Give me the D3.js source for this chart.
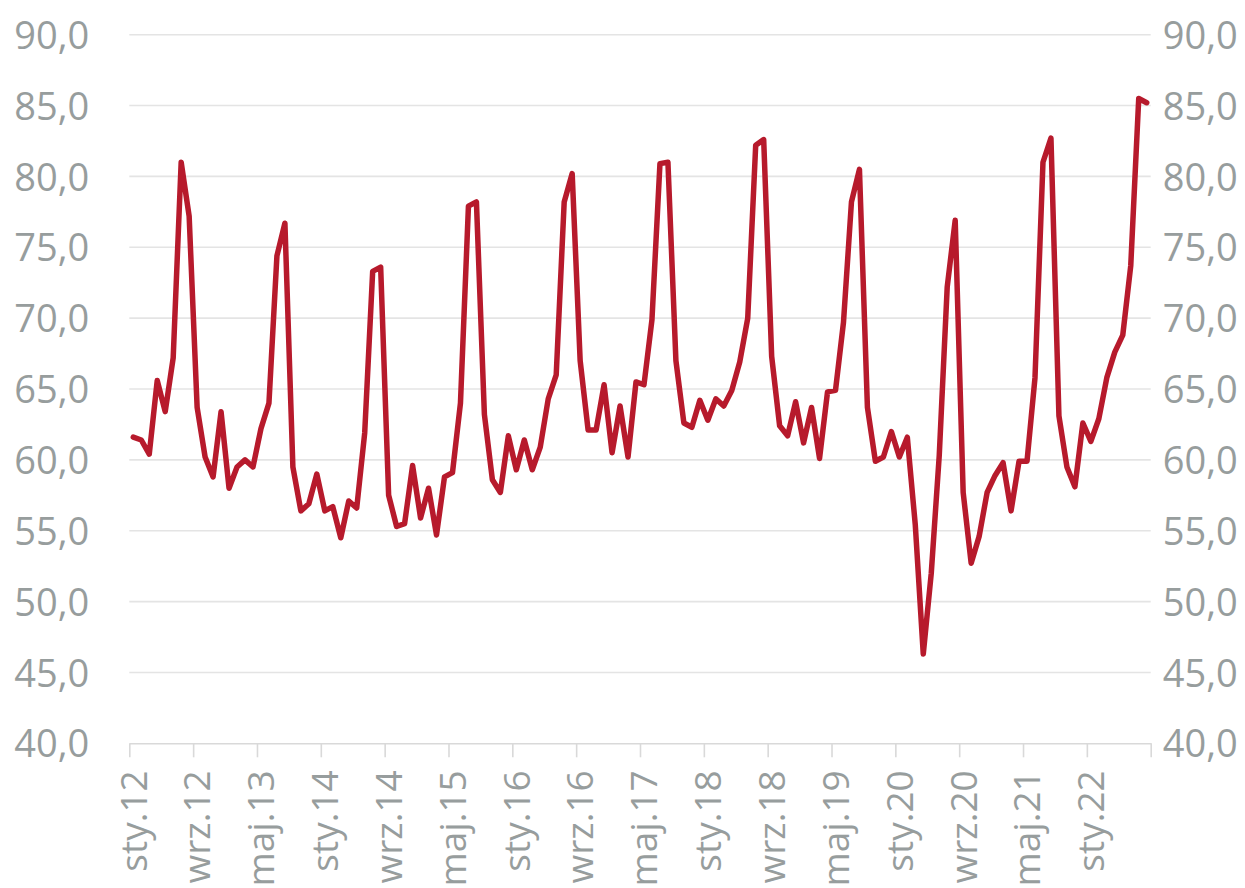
<!DOCTYPE html>
<html>
<head>
<meta charset="utf-8">
<script src="https://cdn.jsdelivr.net/npm/d3@7"></script>
<style>
  body { margin: 0; background: #fff; }
  text { font-family: "Open Sans", sans-serif; fill: #979d9d; }
</style>
</head>
<body>
<svg></svg>
<script>
var width = 1245, height = 888;

var monthNames = ['sty','lut','mar','kwi','maj','cze','lip','sie','wrz','paź','lis','gru'];
var startYear = 2012;

// monthly values, sty.12 .. sie.22
var values = [
  61.6, 61.4, 60.4, 65.6, 63.4, 67.2, 81.0, 77.2, 63.7, 60.2, 58.8, 63.4,
  58.0, 59.5, 60.0, 59.5, 62.2, 64.0, 74.4, 76.7, 59.5, 56.4, 56.9, 59.0,
  56.4, 56.7, 54.5, 57.1, 56.6, 61.9, 73.3, 73.6, 57.5, 55.3, 55.5, 59.6,
  55.9, 58.0, 54.7, 58.8, 59.1, 64.0, 77.9, 78.2, 63.2, 58.6, 57.7, 61.7,
  59.3, 61.4, 59.3, 60.9, 64.3, 66.0, 78.2, 80.2, 67.0, 62.1, 62.1, 65.3,
  60.5, 63.8, 60.2, 65.5, 65.3, 69.9, 80.9, 81.0, 67.0, 62.6, 62.3, 64.2,
  62.8, 64.3, 63.8, 64.9, 66.9, 70.0, 82.2, 82.6, 67.3, 62.4, 61.7, 64.1,
  61.2, 63.7, 60.1, 64.8, 64.9, 69.7, 78.2, 80.5, 63.7, 59.9, 60.2, 62.0,
  60.2, 61.6, 55.4, 46.3, 52.0, 60.3, 72.2, 76.9, 57.7, 52.7, 54.6, 57.7,
  58.9, 59.8, 56.4, 59.9, 59.9, 65.8, 81.0, 82.7, 63.1, 59.5, 58.1, 62.6,
  61.3, 62.9, 65.8, 67.6, 68.8, 73.7, 85.5, 85.2
];

var categories = values.map(function(v, i){
    var m = i % 12, yr = startYear + Math.floor(i / 12);
    return monthNames[m] + '.' + String(yr).slice(2);
});

var yTicks = [40, 45, 50, 55, 60, 65, 70, 75, 80, 85, 90];
var labelStep = 8;

var plotLeft = 129.3, plotRight = 1150.7, plotTop = 34.7, plotBottom = 743.3;

var x = d3.scaleLinear()
            .domain([-0.5, values.length - 0.5])
            .range([plotLeft, plotRight]);

var y = d3.scaleLinear()
            .domain([40, 90])
            .range([plotBottom, plotTop]);

var fmt = d => d.toFixed(1).replace('.', ',');

var svg = d3.select('svg')
            .attr('width', width)
            .attr('height', height);

// gridlines
svg.append('g')
    .selectAll('line')
    .data(yTicks.slice(1))
    .enter()
    .append('line')
        .attr('x1', plotLeft)
        .attr('x2', plotRight)
        .attr('y1', d => y(d))
        .attr('y2', d => y(d))
        .attr('stroke', '#e4e4e4')
        .attr('stroke-width', 1.6);

// y axes, left and right
var yLeft = svg.append('g')
    .attr('transform', `translate(${plotLeft - 40},0)`)
    .call(d3.axisLeft(y).tickValues(yTicks).tickFormat(fmt).tickSize(0).tickPadding(0));

var yRight = svg.append('g')
    .attr('transform', `translate(${plotRight + 12},0)`)
    .call(d3.axisRight(y).tickValues(yTicks).tickFormat(fmt).tickSize(0).tickPadding(0));

[yLeft, yRight].forEach(function(g){
    g.select('.domain').remove();
    g.selectAll('text')
        .attr('font-size', 38)
        .attr('font-family', '"Open Sans", sans-serif')
        .attr('fill', '#979d9d')
        .attr('dy', '0.36em');
});

// x axis: ticks at category boundaries every 8 months
var tickIdx = d3.range(0, values.length + 1, labelStep);

var xAxis = svg.append('g')
    .attr('transform', `translate(0,${plotBottom})`)
    .call(d3.axisBottom(x).tickValues(tickIdx.map(i => i - 0.5)).tickFormat('').tickSize(14).tickSizeOuter(0));

xAxis.select('.domain')
    .attr('stroke', '#d9d9d9')
    .attr('stroke-width', 1.6);
xAxis.selectAll('.tick line')
    .attr('stroke', '#d9d9d9')
    .attr('stroke-width', 1.6);

svg.append('g')
    .selectAll('text')
    .data(tickIdx.filter(i => i < values.length))
    .enter()
    .append('text')
        .attr('transform', i => `translate(${x(i)},${plotBottom + 27}) rotate(-90)`)
        .attr('text-anchor', 'end')
        .attr('dy', '0.36em')
        .attr('font-size', 37)
        .text(i => categories[i]);

// data line
var line = d3.line()
    .x((d, i) => x(i))
    .y(d => y(d));

svg.append('path')
    .datum(values)
    .attr('d', line)
    .attr('fill', 'none')
    .attr('stroke', '#b71a2c')
    .attr('stroke-width', 5.5)
    .attr('stroke-linejoin', 'round')
    .attr('stroke-linecap', 'round');
</script>
</body>
</html>
